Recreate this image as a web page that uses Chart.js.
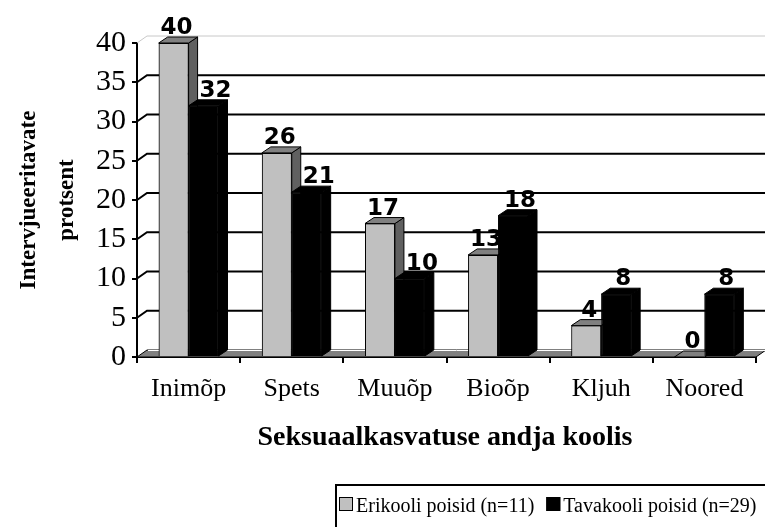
<!DOCTYPE html>
<html><head><meta charset="utf-8">
<script src="https://cdn.jsdelivr.net/npm/chart.js@4.4.1/dist/chart.umd.min.js"></script>
<style>html,body{margin:0;padding:0;background:#fff;}canvas{display:block;}</style>
</head><body>
<canvas id="c" width="765" height="527"></canvas>
<script>
const categories = ["Inimõp", "Spets", "Muuõp", "Bioõp", "Kljuh", "Noored"];
const erikooli = [40, 26, 17, 13, 4, 0];
const tavakooli = [32, 21, 10, 18, 8, 8];
const seriesNames = ["Erikooli poisid (n=11)", "Tavakooli poisid (n=29)"];
const yTitle = ["Intervjueeritavate", "protsent"];
const xTitle = "Seksuaalkasvatuse andja koolis";
const yMin = 0, yMax = 40, yStep = 5;

const WALL = {dx: 10, dy: -7};
const BAR = {dx: 9, dy: -6};
const SERIF = '"Liberation Serif", "Times New Roman", serif';
const LABELFONT = '"DejaVu Sans", Verdana, sans-serif';

const faces = [
  {front: '#C0C0C0', side: '#606060', top: '#808080'},
  {front: '#000000', side: '#000000', top: '#000000'}
];

const plugin3d = {
  id: 'p3d',
  beforeDatasetsDraw(chart) {
    const ctx = chart.ctx, a = chart.chartArea, ys = chart.scales.y;
    ctx.save();
    const y0 = ys.getPixelForValue(0);
    // floor
    ctx.beginPath();
    ctx.moveTo(a.left, y0);
    ctx.lineTo(a.right, y0);
    ctx.lineTo(a.right + WALL.dx, y0 + WALL.dy);
    ctx.lineTo(a.left + WALL.dx, y0 + WALL.dy);
    ctx.closePath();
    ctx.fillStyle = '#808080';
    ctx.fill();
    ctx.strokeStyle = '#000';
    ctx.lineWidth = 1;
    ctx.stroke();
    ctx.beginPath();
    ctx.moveTo(a.left + WALL.dx + 1, y0 + WALL.dy + 0.5);
    ctx.lineTo(a.right + WALL.dx - 1, y0 + WALL.dy + 0.5);
    ctx.strokeStyle = '#fff';
    ctx.stroke();
    // back wall gridlines with slanted ticks
    for (let v = yMin + yStep; v <= yMax; v += yStep) {
      const y = ys.getPixelForValue(v);
      ctx.beginPath();
      ctx.moveTo(a.left, y);
      ctx.lineTo(a.left + WALL.dx, y + WALL.dy);
      ctx.lineTo(chart.width, y + WALL.dy);
      if (v === yMax) { ctx.strokeStyle = '#c8c8c8'; ctx.lineWidth = 1; }
      else { ctx.strokeStyle = '#000'; ctx.lineWidth = 2; }
      ctx.stroke();
    }
    ctx.restore();
  },
  afterDatasetsDraw(chart) {
    const ctx = chart.ctx;
    const all = chart.data.datasets;
    // redraw in series order so later series sit in front of earlier ones
    all.forEach((ds, di) => {
      const meta = chart.getDatasetMeta(di);
      const f = faces[di];
      ctx.save();
      meta.data.forEach((el, i) => {
        el.draw(ctx);
        const p = el.getProps(['x', 'y', 'base', 'width'], true);
        const l = p.x - p.width / 2, r = p.x + p.width / 2;
        ctx.lineWidth = 1;
        ctx.strokeStyle = '#000';
        // side
        ctx.beginPath();
        ctx.moveTo(r, p.base);
        ctx.lineTo(r + BAR.dx, p.base + BAR.dy);
        ctx.lineTo(r + BAR.dx, p.y + BAR.dy);
        ctx.lineTo(r, p.y);
        ctx.closePath();
        ctx.fillStyle = f.side; ctx.fill(); ctx.stroke();
        // top
        ctx.beginPath();
        ctx.moveTo(l, p.y);
        ctx.lineTo(l + BAR.dx, p.y + BAR.dy);
        ctx.lineTo(r + BAR.dx, p.y + BAR.dy);
        ctx.lineTo(r, p.y);
        ctx.closePath();
        ctx.fillStyle = f.top; ctx.fill(); ctx.stroke();
        // value label (shifted right when the neighbouring bar behind is taller)
        let off = 3;
        if (di > 0 && all[di - 1].data[i] > ds.data[i]) off = 12;
        else if (di > 0) off = 7;
        ctx.fillStyle = '#000';
        ctx.font = 'bold 23px ' + LABELFONT;
        ctx.textAlign = 'center';
        ctx.textBaseline = 'alphabetic';
        ctx.fillText(String(ds.data[i]), p.x + off, p.y + BAR.dy - 3);
      });
      ctx.restore();
    });
  },
  afterDraw(chart) {
    const ctx = chart.ctx, a = chart.chartArea;
    ctx.save();
    ctx.fillStyle = '#000';
    // x title
    ctx.font = 'bold 28px ' + SERIF;
    ctx.textAlign = 'center';
    ctx.textBaseline = 'middle';
    ctx.fillText(xTitle, 445, 438);
    // y title
    ctx.font = 'bold 23px ' + SERIF;
    ctx.save();
    ctx.translate(29, (a.top + a.bottom) / 2);
    ctx.rotate(-Math.PI / 2);
    ctx.fillText(yTitle[0], 0, 0);
    ctx.restore();
    ctx.save();
    ctx.translate(67, (a.top + a.bottom) / 2);
    ctx.rotate(-Math.PI / 2);
    ctx.fillText(yTitle[1], 0, 0);
    ctx.restore();
    // legend
    ctx.lineWidth = 2;
    ctx.strokeStyle = '#000';
    ctx.strokeRect(336, 485, 440, 50);
    ctx.font = '20px ' + SERIF;
    ctx.textAlign = 'left';
    ctx.textBaseline = 'alphabetic';
    let x = 339;
    chart.data.datasets.forEach((ds, i) => {
      ctx.fillStyle = faces[i].front;
      ctx.fillRect(x, 497, 14, 14);
      ctx.lineWidth = 1;
      ctx.strokeRect(x + 0.5, 497.5, 13, 13);
      ctx.fillStyle = '#000';
      ctx.fillText(ds.label, x + 17, 512);
      x += 17 + ctx.measureText(ds.label).width + 12;
    });
    ctx.restore();
  }
};

new Chart(document.getElementById('c'), {
  type: 'bar',
  data: {
    labels: categories,
    datasets: [
      {label: seriesNames[0], data: erikooli, backgroundColor: faces[0].front, borderColor: '#000', borderWidth: 1},
      {label: seriesNames[1], data: tavakooli, backgroundColor: faces[1].front, borderColor: '#000', borderWidth: 1}
    ]
  },
  options: {
    responsive: false,
    animation: false,
    devicePixelRatio: 1,
    categoryPercentage: 0.58,
    barPercentage: 1,
    layout: {padding: {left: 0, top: 43, right: 9, bottom: 0}},
    plugins: {legend: {display: false}, tooltip: {enabled: false}},
    scales: {
      y: {
        min: yMin, max: yMax,
        ticks: {stepSize: yStep, color: '#000', font: {family: SERIF, size: 30}, padding: 6},
        grid: {drawOnChartArea: false, color: '#000', lineWidth: 2, tickLength: 5},
        border: {color: '#000', width: 2},
        afterFit(s) { s.width = 137; }
      },
      x: {
        ticks: {color: '#000', font: {family: SERIF, size: 26}, padding: 11, maxRotation: 0},
        grid: {drawOnChartArea: false, offset: true, color: '#000', lineWidth: 2, tickLength: 6},
        border: {color: '#000', width: 2},
        afterFit(s) { s.height = 170; }
      }
    }
  },
  plugins: [plugin3d]
});
</script>
</body></html>
